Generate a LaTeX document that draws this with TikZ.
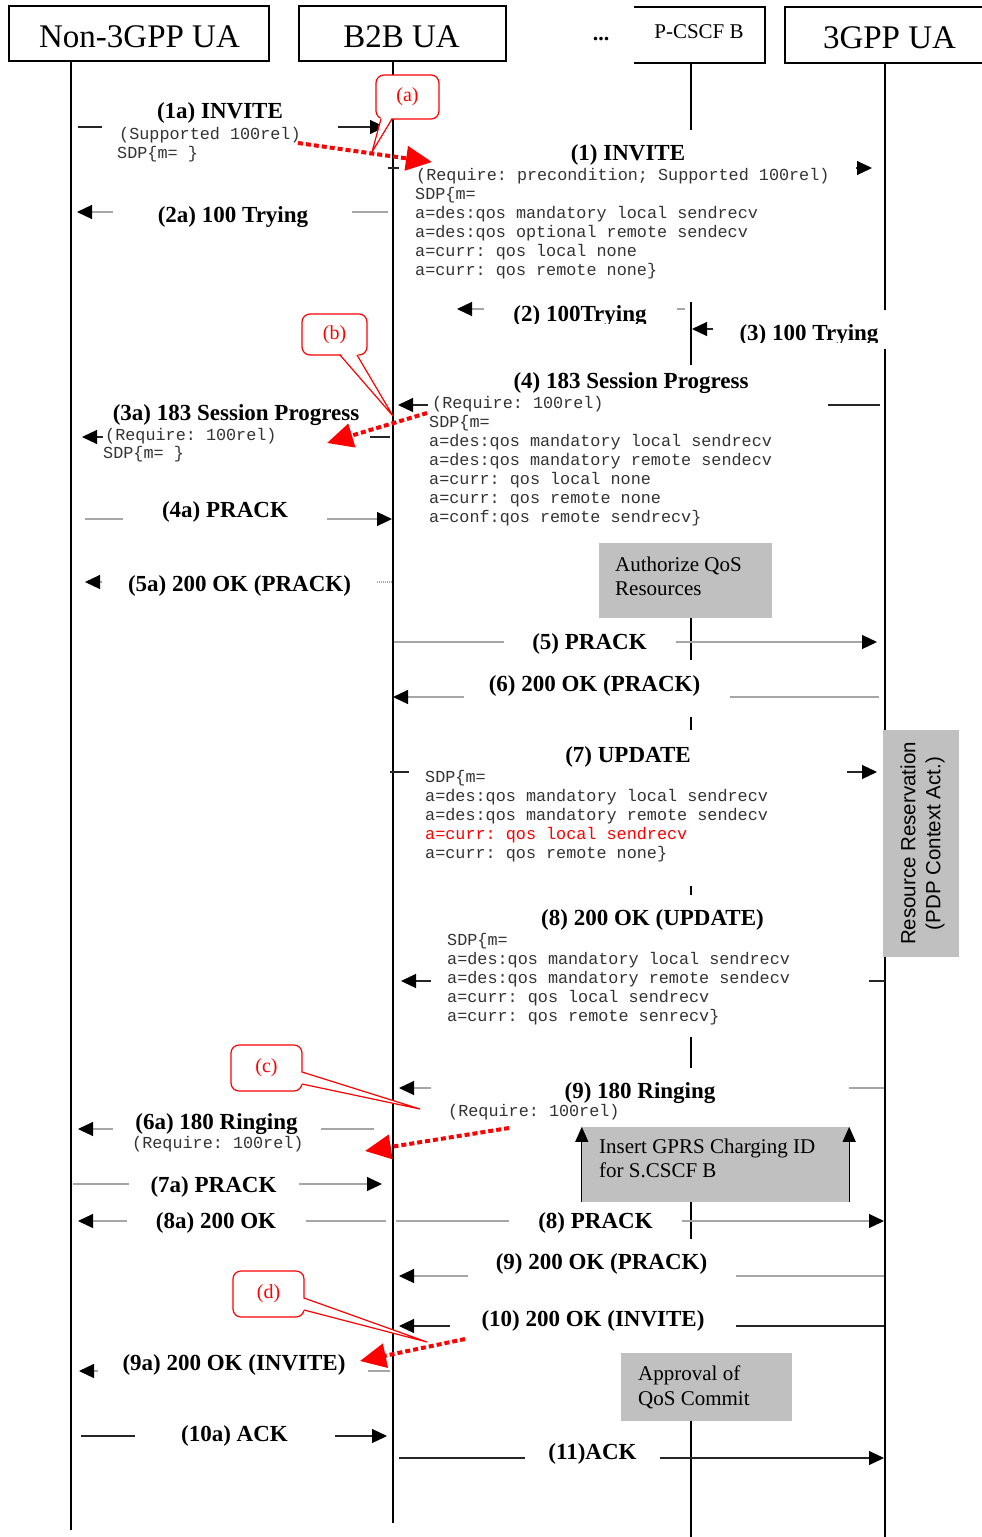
\documentclass[tikz,border=0pt]{standalone}
\usepackage{fontspec}
\setmainfont{Liberation Serif}
\newfontfamily\monof{Liberation Mono}
\newfontfamily\sansf{Liberation Sans}
\usetikzlibrary{arrows.meta}
\definecolor{boxgray}{HTML}{C0C0C0}
\frenchspacing
\begin{document}
\begin{tikzpicture}[x=1pt,y=-1pt,
  lifeline/.style={line width=1.5pt, black},
  msg/.style={line width=1.1pt, draw=black!85, -{Triangle[length=15pt,width=14pt,color=black]}},
  msgg/.style={msg, draw=black!35},
  msgd/.style={msgg, dash pattern=on 1pt off 1pt},
  cover/.style={fill=white},
  gbox/.style={fill=boxgray, inner sep=0pt},
  hdrbox/.style={draw, line width=1.6pt, fill=white, inner sep=0pt},
  hdr/.style={font=\fontsize{33}{38}\selectfont, inner sep=0pt, anchor=base},
  pcs/.style={font=\fontsize{21}{25}\selectfont, inner sep=0pt, anchor=base},
  lbl/.style={font=\bfseries\fontsize{23}{27}\selectfont, inner sep=0pt, anchor=base},
  sdp/.style={font=\monof\frenchspacing\fontsize{16.8}{19}\selectfont, inner sep=0pt, anchor=base west, text=black!80},
  boxtxt/.style={font=\fontsize{21}{25}\selectfont, inner sep=0pt, anchor=base west},
  callout/.style={draw=red, line width=1.2pt, fill=white, rounded corners=8pt, inner sep=0pt,
                  text=red, font=\fontsize{20}{24}\selectfont},
  tailline/.style={draw=red, line width=1.2pt},
  redarrow/.style={draw=red, line width=4pt, dash pattern=on 5pt off 3pt,
                   -{Triangle[length=26pt,width=24pt,color=red]}},
  uparrow/.style={line width=1.1pt, -{Triangle[length=15pt,width=13pt]}}
]
\useasboundingbox (0,0) rectangle (982,1537);
\fill[white] (0,0) rectangle (982,1537);

% lifeline positions
\coordinate (nA) at (71,0);
\coordinate (nB) at (393,0);
\coordinate (nC) at (691,0);
\coordinate (nD) at (885,0);

% lifelines
\draw[lifeline] (nA |- 0,60) -- (nA |- 0,1530);
\draw[lifeline] (nB |- 0,61) -- (nB |- 0,1523);
\draw[lifeline] (nC |- 0,63) -- (nC |- 0,1537);
\draw[lifeline] (nD |- 0,63) -- (nD |- 0,1537);

% messages
\draw[msg, shorten <=7pt, shorten >=8pt] (nA |- 0,127) -- (nB |- 0,127);      % 1a
\draw[msgg, shorten <=5pt, shorten >=6pt] (nB |- 0,212) -- (nA |- 0,212);     % 2a
\draw[msg, shorten <=-5pt, shorten >=13pt] (nB |- 0,168) -- (nD |- 0,168);    % 1
\draw[msgg, shorten <=6pt, shorten >=64pt] (nC |- 0,309) -- (nB |- 0,309);    % 2
\draw[msg, shorten >=1pt] (nD |- 0,329) -- (nC |- 0,329);                     % 3
\draw[msg, shorten <=5pt, shorten >=5pt] (nD |- 0,405) -- (nB |- 0,405);      % 4
\draw[msg, shorten <=3pt, shorten >=11pt] (nB |- 0,437) -- (nA |- 0,437);     % 3a
\draw[msgg, shorten <=14pt, shorten >=1pt] (nA |- 0,519) -- (nB |- 0,519);    % 4a
\draw[msgd, shorten <=1pt, shorten >=14pt] (nB |- 0,582) -- (nA |- 0,582);    % 5a
\draw[msgg, shorten <=1pt, shorten >=8pt] (nB |- 0,642) -- (nD |- 0,642);     % 5
\draw[msgg, shorten <=6pt] (nD |- 0,697) -- (nB |- 0,697);                    % 6
\draw[msg, shorten <=-3pt, shorten >=8pt] (nB |- 0,772) -- (nD |- 0,772);     % 7
\draw[msg, shorten >=8pt] (nD |- 0,981) -- (nB |- 0,981);                     % 8
\draw[msgg, shorten <=1pt, shorten >=6pt] (nD |- 0,1088) -- (nB |- 0,1088);   % 9
\draw[msgg, shorten <=19pt, shorten >=7pt] (nB |- 0,1129) -- (nA |- 0,1129);  % 6a
\draw[msgg, shorten <=2pt, shorten >=11pt] (nA |- 0,1184) -- (nB |- 0,1184);  % 7a
\draw[msgg, shorten <=7pt, shorten >=7pt] (nB |- 0,1221) -- (nA |- 0,1221);   % 8a
\draw[msgg, shorten <=3pt, shorten >=1pt] (nB |- 0,1221) -- (nD |- 0,1221);   % 8
\draw[msgg, shorten <=1pt, shorten >=6pt] (nD |- 0,1276) -- (nB |- 0,1276);   % 9 200 OK
\draw[msg, shorten <=1pt, shorten >=6pt] (nD |- 0,1326) -- (nB |- 0,1326);    % 10
\draw[msgg, shorten <=3pt, shorten >=8pt] (nB |- 0,1371) -- (nA |- 0,1371);   % 9a
\draw[msg, shorten <=10pt, shorten >=6pt] (nA |- 0,1436) -- (nB |- 0,1436);   % 10a
\draw[msg, shorten <=6pt, shorten >=1pt] (nB |- 0,1458) -- (nD |- 0,1458);    % 11

% white text areas (interrupt lines as in the original)
\fill[cover] (102,100) rectangle (338,165);
\fill[cover] (113,195) rectangle (352,230);
\fill[cover] (399,130) rectangle (856,302);
\fill[cover] (484,292) rectangle (677,323);
\fill[cover] (713,310) rectangle (892,349);
\fill[cover] (428,365) rectangle (828,543);
\fill[cover] (103,398) rectangle (370,465);
\fill[cover] (123,495) rectangle (327,530);
\fill[cover] (103,565) rectangle (376,600);
\fill[cover] (504,625) rectangle (676,660);
\fill[cover] (464,660) rectangle (730,717);
\fill[cover] (409,730) rectangle (847,886);
\fill[cover] (431,895) rectangle (869,1037);
\fill[cover] (431,1068) rectangle (849,1127);
\fill[cover] (113,1105) rectangle (321,1155);
\fill[cover] (129,1168) rectangle (299,1200);
\fill[cover] (127,1205) rectangle (306,1236);
\fill[cover] (509,1205) rectangle (682,1238);
\fill[cover] (468,1239) rectangle (736,1290);
\fill[cover] (450,1290) rectangle (736,1353);
\fill[cover] (98,1345) rectangle (368,1385);
\fill[cover] (135,1420) rectangle (335,1452);
\fill[cover] (525,1440) rectangle (660,1470);

% grey boxes
\node[gbox, minimum width=173pt, minimum height=75pt] (auth) at (685.5,580.5) {};
\node[gbox, minimum width=267pt, minimum height=75pt] (gprs) at (715.5,1164.5) {};
\node[gbox, minimum width=171pt, minimum height=68pt] (appr) at (706.5,1387) {};
\node[gbox, minimum width=76pt, minimum height=227pt] (rr) at (921,843.5) {};
\draw[uparrow] (gprs.south west) -- (gprs.north west);
\draw[uparrow] (gprs.south east) -- (gprs.north east);

% header boxes
\node[hdrbox, minimum width=260pt, minimum height=55pt] (hA) at (139,33.5) {};
\node[hdrbox, minimum width=207pt, minimum height=55pt] (hB) at (402.5,33.5) {};
\fill[white] (634,7) rectangle (765,63);
\draw[line width=1.6pt] (634,7) -- (765,7) -- (765,63) -- (634,63);
\fill[white] (785,7) rectangle (982,63);
\draw[line width=1.6pt] (982,7) -- (785,7) -- (785,63) -- (982,63);

\node[hdr] (tA) at (139.5,47) {Non-3GPP UA};
\node[hdr] (tB) at (401.5,47) {B2B UA};
\node[lbl, font=\bfseries\fontsize{22}{26}\selectfont] (dots) at (601,40) {...};
\node[pcs] (tC) at (699,38) {P-CSCF B};
\node[hdr] (tD) at (889.5,48) {3GPP UA};

% labels
\node[lbl] (l1a) at (220,118) {(1a) INVITE};
\node[sdp] (s1a0) at (119,139) {(Supported 100rel)};
\node[sdp] (s1a1) at (117,158) {SDP\{m= \}};
\node[lbl] (l2a) at (233,222) {(2a) 100 Trying};

\node[lbl] (l1) at (628,160) {(1) INVITE};
\node[sdp] (s1h) at (416,180) {(Require: precondition; Supported 100rel)};
\foreach \t [count=\i from 0] in {{SDP\{m=},{a=des:qos mandatory local sendrecv},{a=des:qos optional remote sendecv},{a=curr: qos local none},{a=curr: qos remote none\}}}
  \node[sdp] (s1-\i) at (415,{199+19*\i}) {\t};

\begin{scope}
  \clip (484,290) rectangle (677,323);
  \node[lbl] (l2) at (580,321) {(2) 100Trying};
\end{scope}
\begin{scope}
  \clip (713,310) rectangle (892,342);
  \node[lbl] (l3) at (809,340) {(3) 100 Trying};
\end{scope}

\node[lbl] (l4) at (631,388) {(4) 183 Session Progress};
\node[sdp] (s4h) at (432,408) {(Require: 100rel)};
\foreach \t [count=\i from 0] in {{SDP\{m=},{a=des:qos mandatory local sendrecv},{a=des:qos mandatory remote sendecv},{a=curr: qos local none},{a=curr: qos remote none},{a=conf:qos remote sendrecv\}}}
  \node[sdp] (s4-\i) at (429,{427+19*\i}) {\t};

\node[lbl] (l3a) at (236,420) {(3a) 183 Session Progress};
\node[sdp] (s3a0) at (105,440) {(Require: 100rel)};
\node[sdp] (s3a1) at (103,458) {SDP\{m= \}};

\node[lbl] (l4a) at (225,517) {(4a) PRACK};
\node[lbl] (l5a) at (239.5,591) {(5a) 200 OK (PRACK)};

\node[boxtxt] (auth1) at (615,571) {Authorize QoS};
\node[boxtxt] (auth2) at (615,595) {Resources};

\node[lbl] (l5) at (589.5,649) {(5) PRACK};
\node[lbl] (l6) at (594.5,691) {(6) 200 OK (PRACK)};

\node[lbl] (l7) at (628,762) {(7) UPDATE};
\node[sdp] (s7-0) at (425,782) {SDP\{m=};
\node[sdp] (s7-1) at (425,801) {a=des:qos mandatory local sendrecv};
\node[sdp] (s7-2) at (425,820) {a=des:qos mandatory remote sendecv};
\node[sdp, text=red] (s7-3) at (425,839) {a=curr: qos local sendrecv};
\node[sdp] (s7-4) at (425,858) {a=curr: qos remote none\}};

\node[rotate=90, align=center, inner sep=0pt, font=\sansf\fontsize{20.5}{25}\selectfont] (rrt) at (922.5,843.5) {Resource Reservation\\(PDP Context Act.)};

\node[lbl] (l8) at (652.5,925) {(8) 200 OK (UPDATE)};
\foreach \t [count=\i from 0] in {{SDP\{m=},{a=des:qos mandatory local sendrecv},{a=des:qos mandatory remote sendecv},{a=curr: qos local sendrecv},{a=curr: qos remote senrecv\}}}
  \node[sdp] (s8-\i) at (447,{945+19*\i}) {\t};

\node[lbl] (l9) at (640,1098) {(9) 180 Ringing};
\node[sdp] (s9) at (448,1116) {(Require: 100rel)};
\node[lbl] (l6a) at (216.5,1129) {(6a) 180 Ringing};
\node[sdp] (s6a) at (132,1148) {(Require: 100rel)};

\node[boxtxt] (gprs1) at (599,1153) {Insert GPRS Charging ID};
\node[boxtxt] (gprs2) at (599,1177) {for S.CSCF B};

\node[lbl] (l7a) at (213.5,1192) {(7a) PRACK};
\node[lbl] (l8a) at (216,1228) {(8a) 200 OK};
\node[lbl] (l8b) at (595.5,1228) {(8) PRACK};
\node[lbl] (l9b) at (601.5,1269) {(9) 200 OK (PRACK)};
\node[lbl] (l10) at (593,1326) {(10) 200 OK (INVITE)};
\node[lbl] (l9a) at (234,1370) {(9a) 200 OK (INVITE)};

\node[boxtxt] (appr1) at (638,1380) {Approval of};
\node[boxtxt] (appr2) at (638,1405) {QoS Commit};

\node[lbl] (l10a) at (234.5,1441) {(10a) ACK};
\node[lbl] (l11) at (592.5,1459) {(11)ACK};

% callouts
\node[callout, minimum width=63pt, minimum height=44pt] (ca) at (407.5,97) {(a)};
\fill[white] (381,117) -- (372,152) -- (392,117) -- cycle;
\draw[tailline] (381,119) -- (372,152) -- (392,119);

\node[callout, minimum width=65pt, minimum height=41pt] (cb) at (334.5,334.5) {(b)};
\fill[white] (340,353) -- (393,416) -- (357,353) -- cycle;
\draw[tailline] (340,355) -- (393,416) -- (357,355);

\node[callout, minimum width=71pt, minimum height=46pt] (cc) at (266.5,1068) {(c)};
\fill[white] (300,1072) -- (420,1109) -- (300,1084) -- cycle;
\draw[tailline] (302,1072) -- (420,1109) -- (302,1084);

\node[callout, minimum width=71pt, minimum height=46pt] (cd) at (268.5,1294) {(d)};
\fill[white] (302,1298) -- (427,1342) -- (302,1310) -- cycle;
\draw[tailline] (304,1298) -- (427,1342) -- (304,1310);

% red dotted arrows
\coordinate (ra0) at (298,143);  \coordinate (ra1) at (432,162);
\coordinate (rb0) at (427,413);  \coordinate (rb1) at (327,443);
\coordinate (rc0) at (509,1128); \coordinate (rc1) at (365,1151);
\coordinate (rd0) at (465,1339); \coordinate (rd1) at (360,1361);
\draw[redarrow] (ra0) -- (ra1);
\draw[redarrow] (rb0) -- (rb1);
\draw[redarrow] (rc0) -- (rc1);
\draw[redarrow] (rd0) -- (rd1);
\end{tikzpicture}
\end{document}
